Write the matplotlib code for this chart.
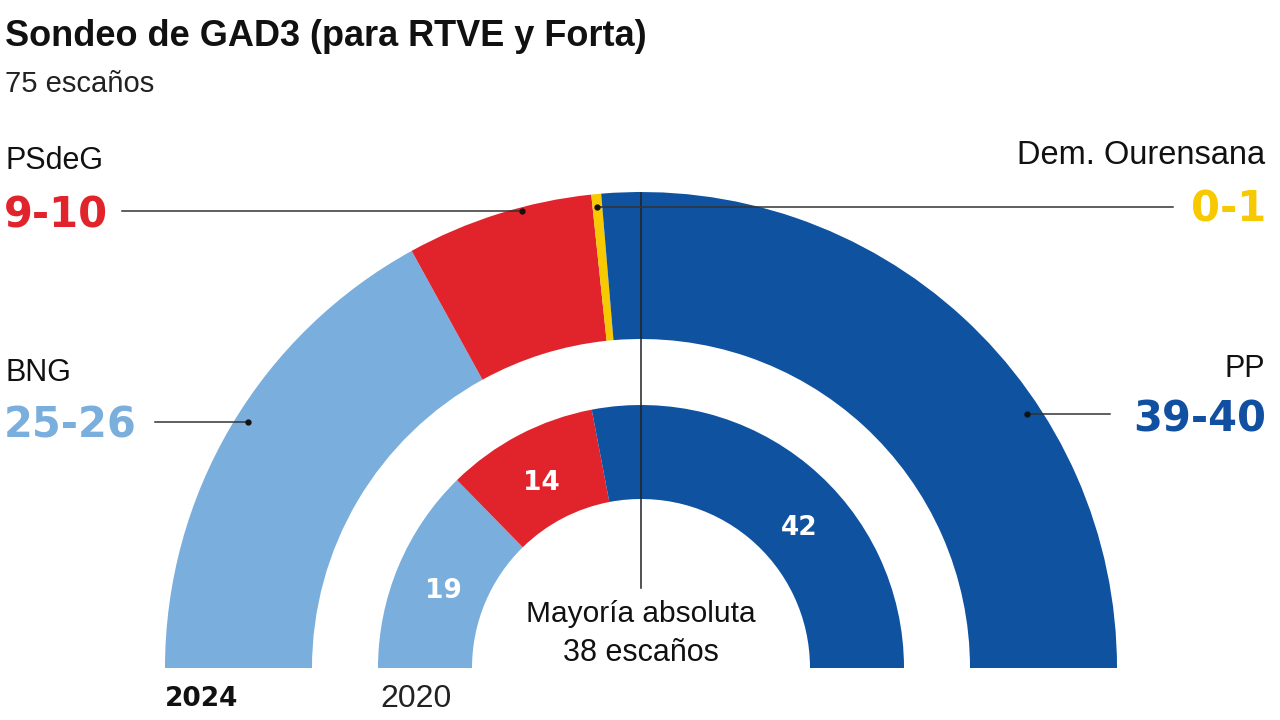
import matplotlib
matplotlib.use("Agg")
import matplotlib.pyplot as plt
from matplotlib.patches import Wedge
import numpy as np

# datos
partidos = ["BNG", "PSdeG", "Dem. Ourensana", "PP"]
rango_2024 = ["25-26", "9-10", "0-1", "39-40"]
escanos_2024 = [25.5, 9.5, 0.5, 39.5]   # punto medio de cada horquilla
escanos_2020 = [19, 14, 0, 42]
colores = ["#79aedd", "#e1232b", "#f7c900", "#0e52a0"]
colores_txt = ["#79aedd", "#e1232b", "#f7c900", "#1150a0"]
total = 75
mayoria = 38

# angulo (grados) donde va cada cifra de 2020
ang_etq_2020 = [158, 118, None, 42]

W, H = 1280, 720
fig = plt.figure(figsize=(12.8, 7.2), dpi=100)
ax = fig.add_axes([0, 0, 1, 1])
ax.set_xlim(0, W)
ax.set_ylim(0, H)
ax.axis("off")

def py(y):
    # coordenada en pixeles desde arriba
    return H - y

cx, cy = 641, py(668)

def anillo(valores, r_ext, r_int):
    ang = 180.0
    for v, c in zip(valores, colores):
        if v <= 0:
            continue
        d = v / total * 180.0
        ax.add_patch(Wedge((cx, cy), r_ext, ang - d, ang, width=r_ext - r_int,
                           facecolor=c, edgecolor="none"))
        ang -= d

anillo(escanos_2024, 476, 329)
anillo(escanos_2020, 263, 169)

# cifras dentro del anillo 2020
r_lab = 213
for v, m in zip(escanos_2020, ang_etq_2020):
    if m is None or v == 0:
        continue
    a = np.deg2rad(m)
    ax.text(cx + r_lab * np.cos(a), cy + r_lab * np.sin(a) - 3, str(v),
            color="white", fontsize=19, fontweight="bold",
            family="DejaVu Sans", ha="center", va="center")

# linea de mayoria
ax.plot([cx, cx], [py(193), py(588)], color="#222222", lw=1.1)
ax.text(cx, py(614), "Mayoría absoluta", fontsize=21.5, family="Liberation Sans",
        ha="center", va="center", color="#111111")
ax.text(cx, py(653), "%d escaños" % mayoria, fontsize=22, family="Liberation Sans",
        ha="center", va="center", color="#111111")

# lineas guia
guias = [
    ((155, 422), (248, 422)),
    ((122, 211), (522, 211)),
    ((1173, 207), (597, 207)),
    ((1110, 414), (1027, 414)),
]
for (x0, y0), (x1, y1) in guias:
    ax.plot([x0, x1], [py(y0), py(y1)], color="#333333", lw=1.1)
    ax.plot([x1], [py(y1)], "o", color="#111111", ms=3.5)

# rotulos de partidos
pos_nombre = [(5, 373, "left", 22), (5, 161, "left", 22), (1265, 156, "right", 23.5), (1265, 369, "right", 22)]
pos_rango = [(4, 425, "left"), (4, 215, "left"), (1266, 210, "right"), (1266, 420, "right")]
for i in range(4):
    x, y, ha, fs = pos_nombre[i]
    ax.text(x, py(y), partidos[i], fontsize=fs, family="Liberation Sans",
            ha=ha, va="center", color="#111111")
    x, y, ha = pos_rango[i]
    ax.text(x, py(y), rango_2024[i], fontsize=30, fontweight="bold",
            family="DejaVu Sans", ha=ha, va="center", color=colores_txt[i])

# titulo
ax.text(5, py(37), "Sondeo de GAD3 (para RTVE y Forta)", fontsize=26, fontweight="bold",
        family="Liberation Sans", ha="left", va="center", color="#111111")
ax.text(5, py(84), "%d escaños" % total, fontsize=21,
        family="Liberation Sans", ha="left", va="center", color="#222222")

# años
ax.text(165, py(699), "2024", fontsize=19, fontweight="bold", family="DejaVu Sans",
        ha="left", va="center", color="#111111")
ax.text(380, py(699), "2020", fontsize=23, family="Liberation Sans",
        ha="left", va="center", color="#222222")

fig.savefig("out.png", dpi=100, facecolor="white")
